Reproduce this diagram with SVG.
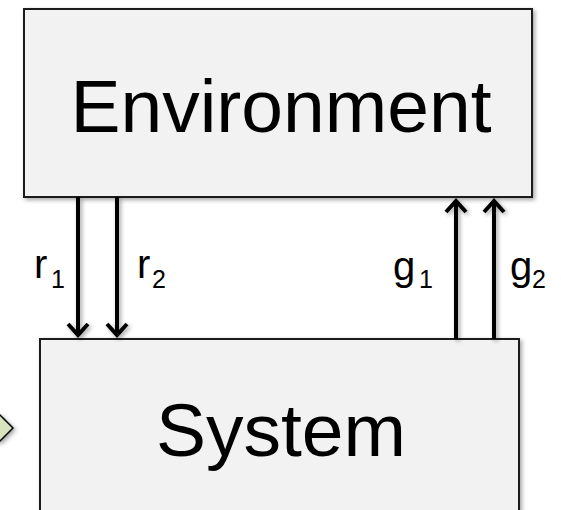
<svg xmlns="http://www.w3.org/2000/svg" width="561" height="510" viewBox="0 0 561 510">
  <style>
    .box { fill: #f2f2f2; stroke: #1a1a1a; stroke-width: 2; }
    .big { font-family: "Liberation Sans", Arial, sans-serif; font-size: 75px; fill: #000; text-anchor: middle; }
    .lbl { font-family: "Liberation Sans", Arial, sans-serif; font-size: 40px; fill: #000; }
    .sub { font-family: "Liberation Sans", Arial, sans-serif; font-size: 25px; fill: #000; }
    .conn { stroke: #000; stroke-width: 4; fill: none; }
  </style>
  <defs>
    <filter id="sh" x="-10%" y="-10%" width="130%" height="130%">
      <feDropShadow dx="2" dy="2" stdDeviation="2" flood-color="#000" flood-opacity="0.35"/>
    </filter>
    <marker id="ah" markerUnits="userSpaceOnUse" markerWidth="40" markerHeight="40" refX="0" refY="0" orient="auto" overflow="visible">
      <path d="M-11,-10 L0,0 L-11,10" fill="none" stroke="#000" stroke-width="4" stroke-linejoin="miter"/>
    </marker>
  </defs>
  <rect width="561" height="510" fill="#ffffff"/>

  <g id="diamond">
    <polygon points="-15,428 -1,414 13,428 -1,442" fill="#d7e4bd" stroke="#000" stroke-width="1.5" filter="url(#sh)"/>
  </g>

  <g id="environment">
    <rect class="box" x="24" y="9" width="508" height="188" filter="url(#sh)"/>
    <text class="big" x="281" y="132" font-size="74">Environment</text>
  </g>

  <g id="system">
    <rect class="box" x="40" y="339" width="479" height="190" filter="url(#sh)"/>
    <text class="big" x="281" y="456">System</text>
  </g>

  <g id="connectors" filter="url(#sh)">
    <line class="conn" x1="78" y1="197" x2="78" y2="335" marker-end="url(#ah)"/>
    <line class="conn" x1="117" y1="197" x2="117" y2="335" marker-end="url(#ah)"/>
    <line class="conn" x1="456" y1="339" x2="456" y2="201" marker-end="url(#ah)"/>
    <line class="conn" x1="494" y1="339" x2="494" y2="201" marker-end="url(#ah)"/>
  </g>

  <g id="labels">
    <text class="lbl" x="34" y="278">r</text><text class="sub" x="51" y="288">1</text>
    <text class="lbl" x="137" y="278">r</text><text class="sub" x="152" y="288">2</text>
    <text class="lbl" x="393" y="280">g</text><text class="sub" x="419" y="288">1</text>
    <text class="lbl" x="510" y="280">g</text><text class="sub" x="532" y="288">2</text>
  </g>
</svg>
